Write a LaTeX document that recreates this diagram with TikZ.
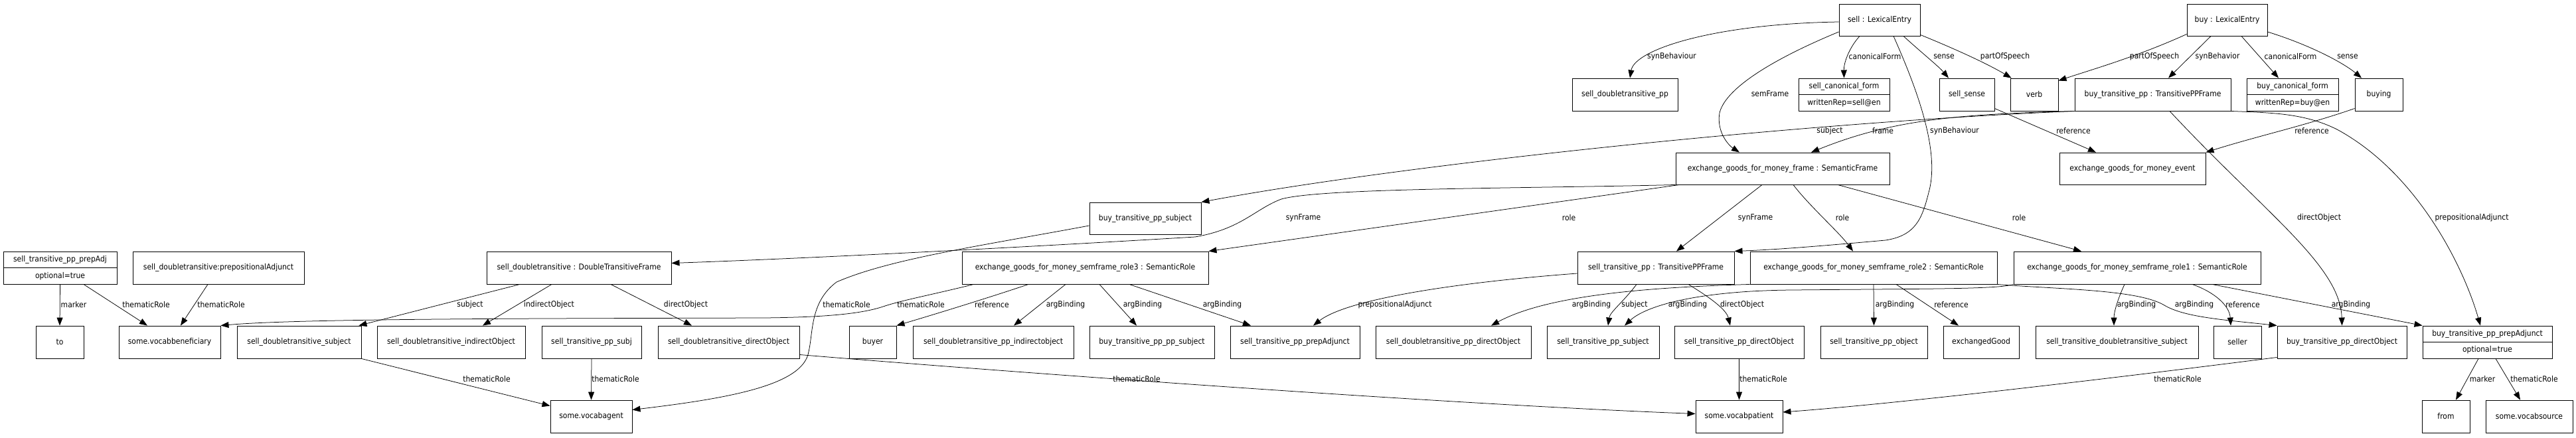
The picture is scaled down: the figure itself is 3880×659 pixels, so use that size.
\documentclass[tikz,border=0pt]{standalone}
\usepackage{fontspec}
\newfontfamily\gvfont{DejaVu Sans}[FakeStretch=0.9]
\usetikzlibrary{arrows.meta}
\begin{document}
\begin{tikzpicture}[x=1pt,y=-1pt,
  rec/.style={draw, line width=0.9pt, inner sep=0pt, minimum height=49pt, font=\gvfont\fontsize{12}{14}\selectfont},
  txt/.style={inner sep=0pt, font=\gvfont\fontsize{12}{14}\selectfont},
  lab/.style={inner sep=0pt, font=\gvfont\fontsize{12}{14}\selectfont},
  edge/.style={draw, line width=0.75pt, -{Triangle[length=12pt,width=9pt]}},
  divider/.style={draw, line width=0.9pt}]
\fill[white] (0,0) rectangle (3880,659);
\useasboundingbox (0,0) rectangle (3880,659);

% ---------- row A
\node[rec, minimum width=122pt, minimum height=48pt] (sellLE) at (2831,30) {sell : LexicalEntry};
\node[rec, minimum width=121pt, minimum height=48pt] (buyLE) at (3354.5,30) {buy : LexicalEntry};
% ---------- row B
\node[rec, minimum width=159pt] (sdtpp) at (2447.5,142.5) {sell\_doubletransitive\_pp};
\node[rec, minimum width=137pt] (scf) at (2777.5,142.5) {};
\node[txt] (scfa) at (2777.5,130.5) {sell\_canonical\_form};
\node[txt] (scfb) at (2777.5,155) {writtenRep=sell@en};
\draw[divider] (scf.west) -- (scf.east);
\node[rec, minimum width=83pt] (ssense) at (2962.5,142.5) {sell\_sense};
\node[rec, minimum width=72pt] (verb) at (3064,142.5) {verb};
\node[rec, minimum width=235pt] (btpp) at (3242.5,142.5) {buy\_transitive\_pp : TransitivePPFrame};
\node[rec, minimum width=138pt] (bcf) at (3453,142.5) {};
\node[txt] (bcfa) at (3453,130.5) {buy\_canonical\_form};
\node[txt] (bcfb) at (3453,155) {writtenRep=buy@en};
\draw[divider] (bcf.west) -- (bcf.east);
\node[rec, minimum width=72pt] (buying) at (3583,142.5) {buying};
% ---------- row C
\node[rec, minimum width=322pt, minimum height=48pt] (frame) at (2685,254) {exchange\_goods\_for\_money\_frame : SemanticFrame};
\node[rec, minimum width=220pt, minimum height=48pt] (event) at (3212,254) {exchange\_goods\_for\_money\_event};
\node[rec, minimum width=168pt, minimum height=48pt] (btpps) at (1725,329) {buy\_transitive\_pp\_subject};
% ---------- row D
\node[rec, minimum width=171pt] (stppadj) at (90.5,403.5) {};
\node[txt] (stppadja) at (90.5,391.5) {sell\_transitive\_pp\_prepAdj};
\node[txt] (stppadjb) at (90.5,416) {optional=true};
\draw[divider] (stppadj.west) -- (stppadj.east);
\node[rec, minimum width=258pt] (sdtpa) at (329,403.5) {sell\_doubletransitive:prepositionalAdjunct};
\node[rec, minimum width=278pt] (dtf) at (872,403.5) {sell\_doubletransitive : DoubleTransitiveFrame};
\node[rec, minimum width=371pt] (role3) at (1634.5,403.5) {exchange\_goods\_for\_money\_semframe\_role3 : SemanticRole};
\node[rec, minimum width=236pt] (stpf) at (2494,403.5) {sell\_transitive\_pp : TransitivePPFrame};
\node[rec, minimum width=372pt] (role2) at (2822,403.5) {exchange\_goods\_for\_money\_semframe\_role2 : SemanticRole};
\node[rec, minimum width=372pt] (role1) at (3219,403.5) {exchange\_goods\_for\_money\_semframe\_role1 : SemanticRole};
% ---------- row E
\node[rec, minimum width=72pt] (to) at (90,515.5) {to};
\node[rec, minimum width=153pt] (vben) at (255.5,515.5) {some.vocabbeneficiary};
\node[rec, minimum width=187pt] (sdts) at (450.5,515.5) {sell\_doubletransitive\_subject};
\node[rec, minimum width=223pt] (sdtio) at (679.5,515.5) {sell\_doubletransitive\_indirectObject};
\node[rec, minimum width=150pt] (stpsubj) at (891,515.5) {sell\_transitive\_pp\_subj};
\node[rec, minimum width=213pt] (sdtdo) at (1097.5,515.5) {sell\_doubletransitive\_directObject};
\node[rec, minimum width=71pt] (buyer) at (1314.5,515.5) {buyer};
\node[rec, minimum width=242pt] (sdtppio) at (1496,515.5) {sell\_doubletransitive\_pp\_indirectobject};
\node[rec, minimum width=188pt] (btppps) at (1735,515.5) {buy\_transitive\_pp\_pp\_subject};
\node[rec, minimum width=195pt] (stppa) at (1950.5,515.5) {sell\_transitive\_pp\_prepAdjunct};
\node[rec, minimum width=234pt] (sdtppdo) at (2189,515.5) {sell\_doubletransitive\_pp\_directObject};
\node[rec, minimum width=169pt] (stps) at (2414.5,515.5) {sell\_transitive\_pp\_subject};
\node[rec, minimum width=195pt] (stpdo) at (2619.5,515.5) {sell\_transitive\_pp\_directObject};
\node[rec, minimum width=161pt] (stpo) at (2822.5,515.5) {sell\_transitive\_pp\_object};
\node[rec, minimum width=114pt] (good) at (2984,515.5) {exchangedGood};
\node[rec, minimum width=245pt] (stdts) at (3188.5,515.5) {sell\_transitive\_doubletransitive\_subject};
\node[rec, minimum width=72pt] (seller) at (3370,515.5) {seller};
\node[rec, minimum width=195pt] (btpdo) at (3527.5,515.5) {buy\_transitive\_pp\_directObject};
\node[rec, minimum width=195pt] (btpa) at (3746.5,515.5) {};
\node[txt] (btpaa) at (3746.5,503) {buy\_transitive\_pp\_prepAdjunct};
\node[txt] (btpab) at (3746.5,527.5) {optional=true};
\draw[divider] (btpa.west) -- (btpa.east);
% ---------- row F
\node[rec, minimum width=123pt] (vagent) at (890.5,627.5) {some.vocabagent};
\node[rec, minimum width=131pt] (vpatient) at (2619.5,627.5) {some.vocabpatient};
\node[rec, minimum width=72pt] (from) at (3684,627.5) {from};
\node[rec, minimum width=131pt] (vsource) at (3809.5,627.5) {some.vocabsource};

% ---------- edges from sell
\draw[edge] ([yshift=-3pt]sellLE.west) .. controls (2580,36) and (2462,75) .. ([xshift=7.5pt]sdtpp.north);
\draw[edge] ([yshift=-18pt]sellLE.west) .. controls (2680,85) and (2600,130) .. (2590,170) .. controls (2585,200) and (2605,220) .. ([xshift=-65pt]frame.north);
\draw[edge] ([xshift=-30pt]sellLE.south) .. controls (2785,72) and (2777,95) .. (scf.north);
\draw[edge] ([xshift=21pt]sellLE.south) .. controls (2890,140) and (2922,230) .. (2905,290) .. controls (2895,330) and (2885,355) .. (2840,362) .. controls (2750,370) and (2680,376) .. (stpf.north east);
\draw[edge] ([xshift=36pt]sellLE.south) .. controls (2895,80) and (2920,100) .. ([xshift=-27.5pt]ssense.north);
\draw[edge] ([yshift=2pt]sellLE.south east) .. controls (2960,80) and (3000,100) .. ([xshift=2pt]verb.north west);
% ---------- edges from buy
\draw[edge] ([yshift=3pt]buyLE.south west) .. controls (3220,85) and (3150,105) .. ([yshift=-4pt]verb.north east);
\draw[edge] ([xshift=-24.5pt]buyLE.south) -- ([xshift=23.5pt]btpp.north);
\draw[edge] ([xshift=21.5pt]buyLE.south) -- ([xshift=-21pt]bcf.north);
\draw[edge] ([yshift=-18pt]buyLE.east) .. controls (3480,68) and (3530,95) .. ([xshift=-26pt]buying.north);
\draw[edge] ([yshift=4pt]ssense.south east) -- ([xshift=-55pt]event.north);
\draw[edge] ([yshift=4pt]buying.south west) .. controls (3470,190) and (3400,205) .. (event.north east);
% ---------- edges from buy_transitive_pp
\draw[edge] (btpp.south west) .. controls (2950,172) and (2850,180) .. ([xshift=43pt]frame.north);
\draw[edge] (btpp.south west) .. controls (2700,185) and (2100,250) .. (btpps.north east);
\draw[edge] ([xshift=25.5pt]btpp.south) .. controls (3410,320) and (3525,400) .. (btpdo.north);
\draw[edge] (btpp.south east) .. controls (3420,170) and (3470,170) .. (3520,195) .. controls (3640,260) and (3710,400) .. ([xshift=-10.5pt]btpa.north);
% ---------- edges from frame
\draw[edge] (frame.south west) .. controls (2300,284) and (1990,283) .. (1930,300) .. controls (1890,315) and (1870,345) .. (1800,357) .. controls (1500,375) and (1200,390) .. ([yshift=7pt]dtf.east);
\draw[edge] ([xshift=6pt]frame.south west) -- (role3.north east);
\draw[edge] ([xshift=-31pt]frame.south) -- ([xshift=31pt]stpf.north);
\draw[edge] ([xshift=16pt]frame.south) .. controls (2725,310) and (2770,350) .. ([xshift=-31pt]role2.north);
\draw[edge] ([xshift=83pt]frame.south) -- ([xshift=-84pt]role1.north);
% ---------- edges from DoubleTransitiveFrame
\draw[edge] ([xshift=-89pt]dtf.south) -- ([xshift=-4pt]sdts.north east);
\draw[edge] ([xshift=-41pt]dtf.south) -- ([xshift=47.5pt]sdtio.north);
\draw[edge] ([xshift=48pt]dtf.south) -- ([xshift=-55.5pt]sdtdo.north);
\draw[edge] (sdts.south east) -- ([yshift=-9pt]vagent.north west);
\draw[edge] (stpsubj.south) -- (vagent.north);
\draw[edge] ([yshift=6pt]sdtdo.south east) .. controls (1450,555) and (2150,608) .. ([yshift=4pt]vpatient.west);
\draw[edge] ([yshift=-11pt]btpps.west) .. controls (1480,370) and (1340,390) .. (1260,425) .. controls (1220,455) and (1225,500) .. (1218,530) .. controls (1210,580) and (1100,600) .. ([yshift=10pt]vagent.east);
% ---------- edges from role3
\draw[edge] ([xshift=18pt]role3.south west) .. controls (1400,445) and (1360,452) .. (1330,462) .. controls (1300,472) and (1250,478) .. (1150,479) .. controls (800,480) and (450,480) .. (vben.north east);
\draw[edge] ([xshift=-85.5pt]role3.south) .. controls (1500,445) and (1420,470) .. (buyer.north east);
\draw[edge] ([xshift=-29.5pt]role3.south) -- ([xshift=31pt]sdtppio.north);
\draw[edge] ([xshift=21.5pt]role3.south) -- ([xshift=-23pt]btppps.north);
\draw[edge] ([xshift=66.5pt]role3.south) -- ([xshift=-66.5pt]stppa.north);
% ---------- edges from sell_transitive_pp frame
\draw[edge] ([yshift=-8.5pt]stpf.west) .. controls (2200,425) and (2030,450) .. ([xshift=27.5pt]stppa.north);
\draw[edge] ([xshift=-29pt]stpf.south) .. controls (2445,455) and (2425,470) .. ([xshift=7.5pt]stps.north);
\draw[edge] ([xshift=49pt]stpf.south) .. controls (2570,445) and (2600,465) .. ([xshift=-13.5pt]stpdo.north);
% ---------- edges from role2 / role1
\draw[edge] (role2.south west) .. controls (2480,433) and (2330,445) .. ([xshift=57pt]sdtppdo.north);
\draw[edge] (role1.south west) .. controls (3010,436) and (2900,435) .. (2700,437) .. controls (2560,438) and (2480,460) .. ([xshift=32.5pt]stps.north);
\draw[edge] (role2.south) -- (stpo.north);
\draw[edge] ([xshift=34pt]role2.south) -- ([xshift=-34pt]good.north);
\draw[edge] (role2.south east) .. controls (3100,436) and (3220,436) .. (3260,460) .. controls (3290,478) and (3350,482) .. (btpdo.north west);
\draw[edge] ([xshift=-19pt]role1.south) .. controls (3190,450) and (3184,470) .. ([xshift=-4.5pt]stdts.north);
\draw[edge] ([xshift=83pt]role1.south) .. controls (3335,440) and (3358,460) .. ([xshift=-10pt]seller.north);
\draw[edge] ([xshift=113pt]role1.south) -- (btpa.north west);
% ---------- lower edges
\draw[edge] (stpdo.south) -- (vpatient.north);
\draw[edge] ([yshift=2pt]btpdo.south west) .. controls (3300,555) and (2900,605) .. ([yshift=6.5pt]vpatient.east);
\draw[edge] ([xshift=-13.5pt]btpa.south) -- ([xshift=15pt]from.north);
\draw[edge] ([xshift=12.5pt]btpa.south) -- ([xshift=-13.5pt]vsource.north);
\draw[edge] (stppadj.south) -- (to.north);
\draw[edge] ([xshift=35.5pt]stppadj.south) -- ([xshift=-33.5pt]vben.north);
\draw[edge] ([xshift=-16pt]sdtpa.south) -- ([xshift=16.5pt]vben.north);

% ---------- labels
\node[lab] (l01) at (2518,85) {synBehaviour};
\node[lab] (l02) at (2666,141) {semFrame};
\node[lab] (l03) at (2824,85) {canonicalForm};
\node[lab] (l04) at (2928,85) {sense};
\node[lab] (l05) at (3020,85) {partOfSpeech};
\node[lab] (l06) at (3245,85) {partOfSpeech};
\node[lab] (l07) at (3340,85) {synBehavior};
\node[lab] (l08) at (3450,85) {canonicalForm};
\node[lab] (l09) at (3536,85) {sense};
\node[lab] (l10) at (2756,197) {subject};
\node[lab] (l11) at (2836,197) {frame};
\node[lab] (l12) at (2944,197) {synBehaviour};
\node[lab] (l13) at (3123,197) {reference};
\node[lab] (l14) at (3482,197) {reference};
\node[lab] (l15) at (1963,328) {synFrame};
\node[lab] (l16) at (2363,328) {role};
\node[lab] (l17) at (2644,328) {synFrame};
\node[lab] (l18) at (2775,328) {role};
\node[lab] (l19) at (3041,328) {role};
\node[lab] (l20) at (3493,328) {directObject};
\node[lab] (l21) at (3723,328) {prepositionalAdjunct};
\node[lab] (l22) at (111,459) {marker};
\node[lab] (l23) at (220,459) {thematicRole};
\node[lab] (l24) at (333,459) {thematicRole};
\node[lab] (l25) at (708,459) {subject};
\node[lab] (l26) at (827,459) {indirectObject};
\node[lab] (l27) at (1033,459) {directObject};
\node[lab] (l28) at (1275,459) {thematicRole};
\node[lab] (l29) at (1387,459) {thematicRole};
\node[lab] (l30) at (1494,459) {reference};
\node[lab] (l31) at (1605,459) {argBinding};
\node[lab] (l32) at (1721,459) {argBinding};
\node[lab] (l33) at (1841,459) {argBinding};
\node[lab] (l34) at (2101,459) {prepositionalAdjunct};
\node[lab] (l35) at (2397,459) {argBinding};
\node[lab] (l36) at (2462,459) {subject};
\node[lab] (l37) at (2542,459) {argBinding};
\node[lab] (l38) at (2624,459) {directObject};
\node[lab] (l39) at (2854,459) {argBinding};
\node[lab] (l40) at (2939,459) {reference};
\node[lab] (l41) at (3218,459) {argBinding};
\node[lab] (l42) at (3305,459) {argBinding};
\node[lab] (l43) at (3378,459) {reference};
\node[lab] (l44) at (3541,459) {argBinding};
\node[lab] (l45) at (733,571) {thematicRole};
\node[lab] (l46) at (927,571) {thematicRole};
\node[lab] (l47) at (1712,571) {thematicRole};
\node[lab] (l48) at (2656,571) {thematicRole};
\node[lab] (l49) at (3280,571) {thematicRole};
\node[lab] (l50) at (3739,571) {marker};
\node[lab] (l51) at (3817,571) {thematicRole};
\end{tikzpicture}
\end{document}
